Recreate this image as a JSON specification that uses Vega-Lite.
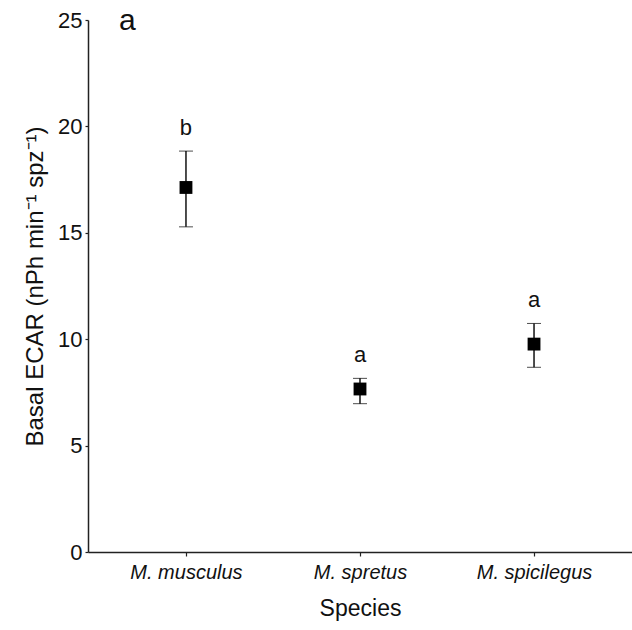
{
  "$schema": "https://vega.github.io/schema/vega-lite/v6.json",
  "autosize": "none",
  "width": 544,
  "height": 532,
  "padding": {"left": 88, "top": 20, "right": 0, "bottom": 78},
  "background": "white",
  "config": {
    "view": {"stroke": null},
    "font": "Liberation Sans",
    "axis": {"grid": false, "domainColor": "#222", "tickColor": "#222", "labelColor": "#111", "titleColor": "#111", "labelFont": "Liberation Sans", "titleFont": "Liberation Sans", "titleFontWeight": "normal", "domainWidth": 1.5, "tickWidth": 1.2}
  },
  "title": {"text": "a", "anchor": "start", "frame": "group", "dx": 31, "offset": 0, "dy": 51, "baseline": "alphabetic", "fontSize": 30, "fontWeight": "normal", "font": "Liberation Sans", "color": "#111"},
  "data": {"values": [
    {"species": "M. musculus", "mean": 17.13, "low": 15.28, "high": 18.84, "sig": "b"},
    {"species": "M. spretus", "mean": 7.66, "low": 6.97, "high": 8.16, "sig": "a"},
    {"species": "M. spicilegus", "mean": 9.77, "low": 8.68, "high": 10.74, "sig": "a"}
  ]},
  "encoding": {
    "x": {"field": "species", "type": "nominal", "sort": null,
      "scale": {"type": "point", "padding": 0.563},
      "axis": {"title": "Species", "labelAngle": 0, "labelFontSize": 20, "labelFontStyle": "italic", "labelPadding": 6, "tickSize": 4, "titleFontSize": 23, "titlePadding": 15}}
  },
  "layer": [
    {
      "mark": {"type": "errorbar", "ticks": {"size": 14, "color": "black", "strokeWidth": 1.4}, "rule": {"color": "black", "strokeWidth": 1.4}},
      "encoding": {
        "y": {"field": "low", "type": "quantitative", "scale": {"domain": [0, 25], "nice": false},
          "axis": {"title": "Basal ECAR (nPh min⁻¹ spz⁻¹)", "values": [0, 5, 10, 15, 20, 25], "labelFontSize": 22, "labelPadding": 3, "tickSize": 3, "titleFontSize": 24, "titlePadding": 10}},
        "y2": {"field": "high"}
      }
    },
    {
      "mark": {"type": "point", "shape": "square", "filled": true, "color": "black", "size": 165, "opacity": 1},
      "encoding": {"y": {"field": "mean", "type": "quantitative"}}
    },
    {
      "mark": {"type": "text", "fontSize": 22, "baseline": "alphabetic", "dy": -16, "color": "#111", "font": "Liberation Sans"},
      "encoding": {"y": {"field": "high", "type": "quantitative"}, "text": {"field": "sig"}}
    }
  ]
}
